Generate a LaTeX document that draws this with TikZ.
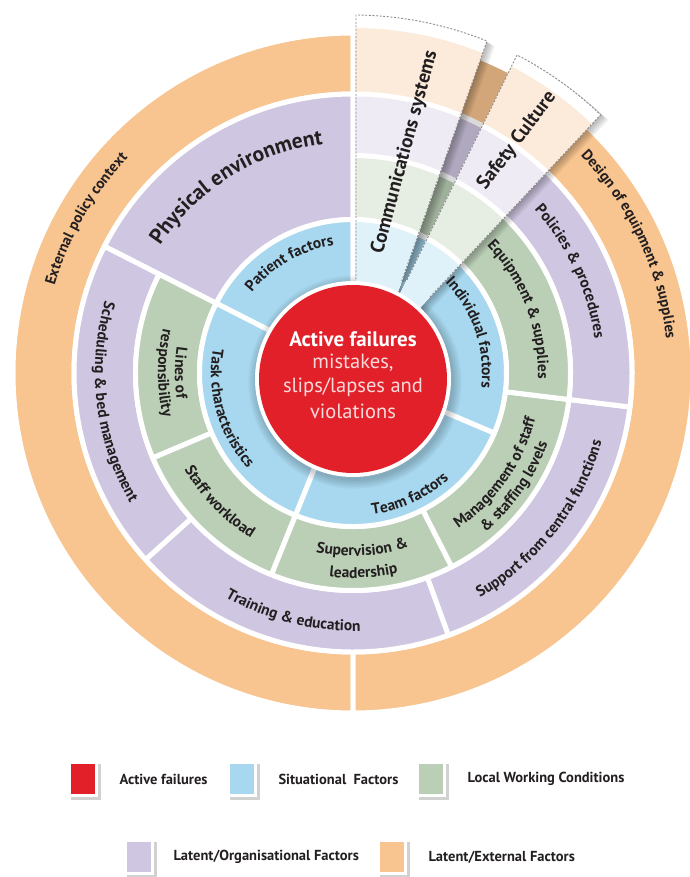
\documentclass[tikz,border=0pt]{standalone}
\usepackage{fontspec}
\setmainfont{PT Sans}
\usetikzlibrary{decorations.text}

\definecolor{redc}{HTML}{E2202A}
\definecolor{bluec}{HTML}{A7D8EF}
\definecolor{greenc}{HTML}{BBCFB7}
\definecolor{purpc}{HTML}{CFC6E1}
\definecolor{orangec}{HTML}{F8C48F}
\definecolor{lorange}{HTML}{FCEBDA}
\definecolor{lpurp}{HTML}{EFEBF4}
\definecolor{lgreen}{HTML}{E6EEE4}
\definecolor{lblue}{HTML}{DFF1F9}
\definecolor{ink}{HTML}{231F20}
\definecolor{pinkw}{HTML}{F9DADA}

\newcommand\lblfont{\fontsize{15.5}{17}\selectfont\bfseries\color{ink}}
\newcommand\outfont{\fontsize{15}{17}\selectfont\bfseries\color{ink}}
\newcommand\bigfont{\fontsize{21.5}{24}\selectfont\bfseries\color{ink}}
\newcommand\wedgefont{\fontsize{19.5}{21}\selectfont\bfseries\color{ink}}
\newcommand\legfont{\fontsize{14.5}{16}\selectfont\bfseries\color{ink}}

% text bent along a circle: font, text, centre angle, half span, baseline radius
\newcommand\cwlabel[5]{%
  \path[decorate, decoration={text along path, text align=center, text={|#1|#2}}]
    ({#3+#4}:#5) arc[start angle={#3+#4}, end angle={#3-#4}, radius=#5];}
\newcommand\ccwlabel[5]{%
  \path[decorate, decoration={text along path, text align=center, text={|#1|#2}}]
    ({#3-#4}:#5) arc[start angle={#3-#4}, end angle={#3+#4}, radius=#5];}

% legend swatch: left, top (downwards), colour
\newcommand\swatch[3]{%
  \fill[black, opacity=0.18] (#1+2.5,-#2-3) rectangle (#1+32.5,-#2-39);
  \fill[white] (#1,-#2) rectangle (#1+30,-#2-36);
  \fill[#3] (#1+3,-#2-3) rectangle (#1+27,-#2-33);}

\begin{document}
\begin{tikzpicture}[x=1pt, y=1pt,
  ansec/.style n args={4}{insert path={(#1:#3) arc[start angle=#1, end angle=#2, radius=#3]
      -- (#2:#4) arc[start angle=#2, end angle=#1, radius=#4] -- cycle}},
  seg/.style={fill=#1, draw=white, line width=5pt, line join=round},
  commwedge/.style={insert path={(356,-300) -- (356,-15)
      arc[start angle=89.5, end angle=68, radius=358] -- (391.4,-310) -- cycle}},
  safewedge/.style={insert path={(387.4,-320) -- (517,-55)
      arc[start angle=62.7, end angle=46.1, radius=356] -- (399,-330) -- cycle}},
  wedgeedge/.style={draw=black!45, dash pattern=on 2pt off 1.6pt, line width=0.9pt},
  legtext/.style={anchor=west, font=\legfont}
]
\useasboundingbox (0,0) rectangle (689,-877);

% ---------- rings ----------
\begin{scope}[shift={(353,-373)}]
  % latent / external
  \path[seg=orangec, ansec={90}{270}{279}{340}];
  \path[seg=orangec, ansec={-90}{90}{279}{340}];
  % latent / organisational
  \path[seg=purpc, ansec={90}{153}{153.5}{279}];
  \path[seg=purpc, ansec={153}{222}{217.5}{279}];
  \path[seg=purpc, ansec={222}{290}{217.5}{279}];
  \path[seg=purpc, ansec={-70}{-7}{217.5}{279}];
  \path[seg=purpc, ansec={-7}{90}{217.5}{279}];
  % local working conditions
  \path[seg=greenc, ansec={153}{203}{153.5}{217.5}];
  \path[seg=greenc, ansec={203}{248}{153.5}{217.5}];
  \path[seg=greenc, ansec={-112}{-63}{153.5}{217.5}];
  \path[seg=greenc, ansec={-63}{-7}{153.5}{217.5}];
  \path[seg=greenc, ansec={-7}{90}{153.5}{217.5}];
  % situational
  \path[seg=bluec, ansec={90}{153}{60}{153.5}];
  \path[seg=bluec, ansec={153}{248}{60}{153.5}];
  \path[seg=bluec, ansec={-112}{-23}{60}{153.5}];
  \path[seg=bluec, ansec={-23}{90}{60}{153.5}];
\end{scope}

% shadow round the centre disc
\foreach \k in {1,...,6}
  \fill[black, opacity=0.035] (355,-382) circle[radius={97+1.6*\k}];

% shade of the ring between the two pulled-out wedges
\begin{scope}
  \clip (353,-373) circle[radius=337.5];
  \fill[black, opacity=0.15] (401,-283) -- (487,-41) -- (517,-55) -- (407,-280) -- cycle;
\end{scope}

% wedge shadows
\foreach \k in {1,...,6} {
  \path[fill=black, fill opacity=0.05, shift={(1.3*\k,-0.9*\k)}, commwedge];
  \path[fill=black, fill opacity=0.05, shift={(1.3*\k,-0.9*\k)}, safewedge];
}

% pulled-out wedges
\foreach \w in {commwedge, safewedge} {
  \begin{scope}
    \path[clip, \w];
    \fill[white] (300,0) rectangle (689,-400);
    \fill[lorange] (353,-373) circle[radius=345];
    \fill[white] (353,-373) circle[radius=281.5];
    \fill[lpurp] (353,-373) circle[radius=276.5];
    \fill[white] (353,-373) circle[radius=220];
    \fill[lgreen] (353,-373) circle[radius=215];
    \fill[white] (353,-373) circle[radius=156];
    \fill[lblue] (353,-373) circle[radius=151];
  \end{scope}
}
\draw[wedgeedge] (356,-283) -- (356,-15) arc[start angle=89.5, end angle=68, radius=358] -- (401,-283);
\draw[wedgeedge] (407,-280) -- (517,-55) arc[start angle=62.7, end angle=46.1, radius=356] -- (430,-297);

% centre disc
\fill[white] (353,-379) circle[radius=98];
\fill[redc] (353,-379) circle[radius=94];
\node[text=white, font=\fontsize{21}{23}\selectfont\bfseries] (af) at (353,-339) {Active failures};
\node[text=pinkw, font=\fontsize{20.5}{23}\selectfont] (mi) at (353,-363) {mistakes,};
\node[text=pinkw, font=\fontsize{20.5}{23}\selectfont] (sl) at (353,-387) {slips/lapses and};
\node[text=pinkw, font=\fontsize{20.5}{23}\selectfont] (vi) at (353,-411) {violations};

% wedge labels
\node[font=\wedgefont, rotate=75] (comm) at (405,-152) {Communications systems};
\node[font=\wedgefont, rotate=53] (safe) at (517,-141) {Safety Culture};

% ring labels
\begin{scope}[shift={(353,-373)}]
  \cwlabel{\outfont}{External policy context}{150}{60}{311}
  \cwlabel{\outfont}{Design of equipment {\&} supplies}{25}{60}{315}
  \cwlabel{\bigfont}{Physical environment}{122}{55}{231}
  \cwlabel{\lblfont}{Policies {\&} procedures}{25}{55}{244}
  \cwlabel{\lblfont}{Equipment {\&} supplies}{21}{60}{185}
  \cwlabel{\lblfont}{Patient factors}{120}{55}{129}
  \cwlabel{\lblfont}{Individual factors}{19}{60}{129}
  \ccwlabel{\lblfont}{Scheduling {\&} bed management}{187}{65}{258}
  \ccwlabel{\lblfont}{Training {\&} education}{256}{55}{258}
  \ccwlabel{\lblfont}{Support from central functions}{-38}{60}{258}
  \ccwlabel{\lblfont}{Lines of}{180}{45}{178}
  \ccwlabel{\lblfont}{responsibility}{180}{45}{195}
  \ccwlabel{\lblfont}{Staff workload}{224}{50}{194}
  \ccwlabel{\lblfont}{Supervision {\&}}{-87}{45}{183}
  \ccwlabel{\lblfont}{leadership}{-87}{45}{205}
  \ccwlabel{\lblfont}{Management of staff}{-35}{50}{188}
  \ccwlabel{\lblfont}{{\&} staffing levels}{-35}{50}{207}
  \ccwlabel{\lblfont}{Task characteristics}{196}{65}{142}
  \ccwlabel{\lblfont}{Team factors}{-65}{50}{143}
\end{scope}

% legend
\swatch{68}{761}{redc}
\node[legtext] (lgA) at (116,-779) {Active failures};
\swatch{227}{761}{bluec}
\node[legtext] (lgB) at (275,-779) {Situational\ \ Factors};
\swatch{416}{761}{greenc}
\node[legtext] (lgC) at (464,-779) {Local Working Conditions};
\swatch{124}{839}{purpc}
\node[legtext] (lgD) at (170,-857) {Latent/Organisational Factors};
\swatch{377}{839}{orangec}
\node[legtext] (lgE) at (425,-857) {Latent/External Factors};
\end{tikzpicture}
\end{document}
